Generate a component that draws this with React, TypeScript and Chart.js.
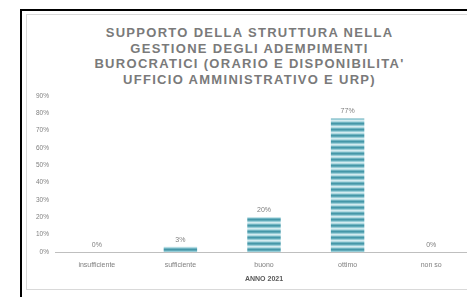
import React, { useEffect, useRef } from "react";
import { Chart, registerables } from "chart.js";

Chart.register(...registerables);

const titleLines = [
  "SUPPORTO DELLA STRUTTURA NELLA",
  "GESTIONE DEGLI ADEMPIMENTI",
  "BUROCRATICI (ORARIO E DISPONIBILITA'",
  "UFFICIO AMMINISTRATIVO E URP)",
];
const categories = ["insufficiente", "sufficiente", "buono", "ottimo", "non so"];
const values = [0, 3, 20, 77, 0];
const yTicks = [0, 10, 20, 30, 40, 50, 60, 70, 80, 90];
const axisTitle = "ANNO 2021";

function makePattern(): CanvasPattern | string {
  const c = document.createElement("canvas");
  const stripes = ["#4597a8", "#5fa9b8", "#98cdd7", "#d3ebf0", "#b3dbe2", "#6fb3c1"];
  c.width = 4;
  c.height = stripes.length;
  const ctx = c.getContext("2d");
  if (!ctx) return "#4a9cae";
  stripes.forEach((col, i) => {
    ctx.fillStyle = col;
    ctx.fillRect(0, i, 4, 1);
  });
  return ctx.createPattern(c, "repeat") || "#4a9cae";
}

const labelPlugin = {
  id: "barLabels",
  afterDatasetsDraw(chart: any) {
    const ctx = chart.ctx;
    const meta = chart.getDatasetMeta(0);
    ctx.save();
    ctx.font = "7px 'Liberation Sans', Arial, sans-serif";
    ctx.fillStyle = "#7f7f7f";
    ctx.textAlign = "center";
    ctx.textBaseline = "middle";
    meta.data.forEach((bar: any, i: number) => {
      ctx.fillText(values[i] + "%", bar.x, bar.y - 7);
    });
    ctx.restore();
  },
};

export default function App() {
  const ref = useRef<HTMLCanvasElement>(null);
  useEffect(() => {
    if (!ref.current) return;
    const chart = new Chart(ref.current, {
      type: "bar",
      data: {
        labels: categories,
        datasets: [
          {
            data: values,
            backgroundColor: makePattern() as any,
            borderWidth: 0,
            barPercentage: 0.5,
            categoryPercentage: 0.8,
          },
        ],
      },
      options: {
        animation: false,
        responsive: false,
        maintainAspectRatio: false,
        layout: { padding: { top: 81, left: 0, right: 0, bottom: 0 } },
        plugins: { legend: { display: false }, tooltip: { enabled: false }, title: { display: false } },
        scales: {
          x: {
            grid: { display: false, drawTicks: false },
            border: { display: true, color: "#bfbfbf", width: 1 },
            ticks: {
              color: "#7f7f7f",
              font: { family: "'Liberation Sans', Arial, sans-serif", size: 7 },
              padding: 9,
              maxRotation: 0,
              autoSkip: false,
            },
            title: {
              display: true,
              text: axisTitle,
              color: "#595959",
              font: { family: "'Liberation Sans', Arial, sans-serif", size: 7, weight: "bold" },
              padding: { top: 4, bottom: 7 },
            },
            afterFit: (s: any) => {
              s.height = 38;
            },
          },
          y: {
            min: 0,
            max: 90,
            grid: { display: false, drawTicks: false },
            border: { display: false },
            afterBuildTicks: (s: any) => {
              s.ticks = yTicks.map((v) => ({ value: v }));
            },
            ticks: {
              color: "#7f7f7f",
              font: { family: "'Liberation Sans', Arial, sans-serif", size: 6.5 },
              padding: 6,
              callback: (v: any) => v + "%",
            },
            afterFit: (s: any) => {
              s.width = 28;
            },
          },
        },
      },
      plugins: [labelPlugin],
    });
    return () => chart.destroy();
  }, []);

  return (
    <div style={{ position: "fixed", left: 0, top: 0, width: 467, height: 297, overflow: "hidden", background: "#fff" }}>
      <div style={{ position: "absolute", left: 20, top: 9, width: 460, height: 300, borderLeft: "2px solid #000", borderTop: "2px solid #000" }} />
      <div style={{ position: "absolute", left: 26, top: 14, width: 460, height: 276, border: "1px solid #d9d9d9", boxSizing: "border-box" }} />
      <div
        style={{
          position: "absolute",
          left: 27,
          top: 25,
          width: 445,
          textAlign: "center",
          fontFamily: "'Liberation Sans', Arial, sans-serif",
          fontWeight: "bold",
          fontSize: 13,
          lineHeight: "15.5px",
          letterSpacing: 1.3,
          color: "#7a7a7a",
        }}
      >
        {titleLines.map((l, i) => (
          <div key={i}>{l}</div>
        ))}
      </div>
      <canvas ref={ref} width={446} height={275} style={{ position: "absolute", left: 27, top: 15, width: 446, height: 275 }} />
    </div>
  );
}
